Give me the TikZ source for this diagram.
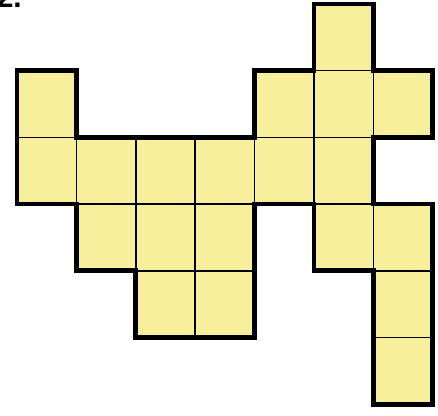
\documentclass[tikz,border=0pt]{standalone}
\usepackage{fontspec}
\setmainfont{Liberation Sans}
\definecolor{cellfill}{RGB}{247,239,156}
\tikzset{
  cellbox/.style={fill=cellfill, draw=black, line width=0.45pt},
  outline/.style={draw=black, line width=1.35pt, line join=miter}
}
\begin{document}
\begin{tikzpicture}

    % 0. 画布大小
    \useasboundingbox (0,0) rectangle (4.38,4.16);

    % 1. 题号
    \node[anchor=base east, inner sep=0pt, font=\fontsize{8.5}{8.5}\selectfont\bfseries] (num) at (0.225,4.08) {2.};

    \begin{scope}[shift={(0.17,4.12)}, x=0.594cm, y=-0.667cm]
    % 2. 填充小方格（列/行）
    \foreach \c/\r in {5/0, 0/1, 4/1, 5/1, 6/1, 0/2, 1/2, 2/2, 3/2, 4/2, 5/2,
                       1/3, 2/3, 3/3, 5/3, 6/3, 2/4, 3/4, 6/4, 6/5}
        \draw[cellbox] (\c,\r) rectangle ++(1,1);

    % 3. 粗外轮廓
    \draw[outline] (0,1) -- (1,1) -- (1,2) -- (4,2) -- (4,1) -- (5,1) -- (5,0) -- (6,0)
        -- (6,1) -- (7,1) -- (7,2) -- (6,2) -- (6,3) -- (7,3) -- (7,6) -- (6,6) -- (6,4)
        -- (5,4) -- (5,3) -- (4,3) -- (4,5) -- (2,5) -- (2,4) -- (1,4) -- (1,3) -- (0,3) -- cycle;
    \end{scope}

\end{tikzpicture}
\end{document}
